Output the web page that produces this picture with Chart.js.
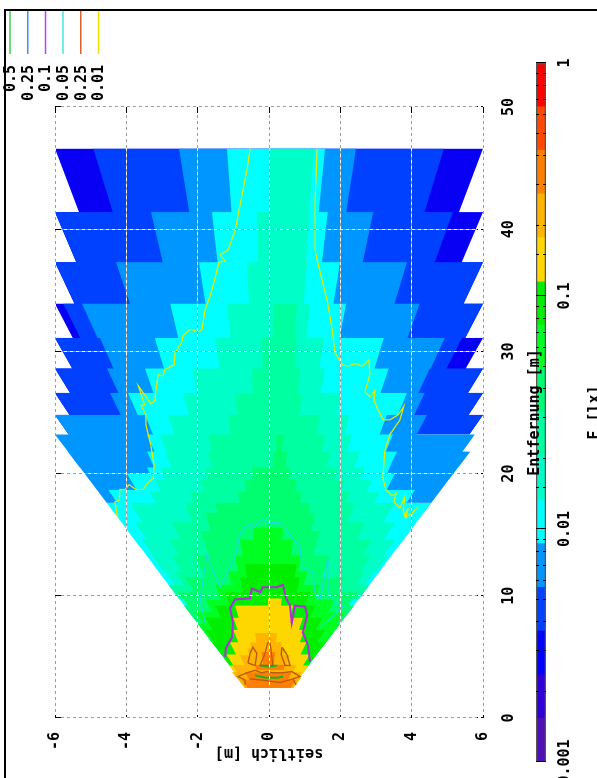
<!DOCTYPE html>
<html>
<head>
<meta charset="utf-8">
<script src="https://cdn.jsdelivr.net/npm/chart.js@4"></script>
<style>
html,body{margin:0;padding:0;background:#fff;width:597px;height:778px;overflow:hidden}
#frame{position:absolute;left:4px;top:9px;width:593px;height:769px;border-left:2px solid #000;border-top:2px solid #000;box-sizing:border-box}
.rot{position:absolute;left:0;top:0;transform-origin:0 0;transform:translate(0,778px) rotate(-90deg)}
</style>
</head>
<body>
<div id="frame"></div>
<canvas id="bar" class="rot" width="778" height="620"></canvas>
<canvas id="plot" class="rot" width="778" height="620"></canvas>
<script>
// far-end distance of each measured row (Entfernung, m)
const rowsFar = [46.6,41.4,37.3,33.9,31.1,28.6,26.6,24.8,23.2];

// filled levels: distance rows, left and right lateral limit at each row's far end
const lv13D = rowsFar;
const lv13L = [-6,-6,-6,-6,-6,-6,-6,-6];
const lv13R = [6,6,6,6,6,6,6,6];

const lv12D = rowsFar;
const lv12L = [-4.93,-6,-6,-5.77,-6,-6,-6,-6];
const lv12R = [4.91,5.16,6,6,5.41,6,6,6];

const lv11D = [46.6,41.4,37.3,33.9,31.1,28.6,26.6,24.8,23.2,21.8,20.5,19.5,18.5,17.6];
const lv11L = [-2.52,-3.31,-4.29,-5.24,-4.74,-4.54,-4.46,-6,-6,-5.64,-5.30,-5.04,-4.78];
const lv11R = [2.44,2.92,3.87,4.23,4.93,4.51,4.37,4.43,5.77,5.64,5.30,5.04,4.78];

const lv10D = [46.6,41.4,37.3,33.9,31.1,28.6,26.6,24.8,23.2,21.8,20.5,20.0,18.66,17.6,16.8,15.3,13.9,12.6,11.5,10.3,9.2,8.2,7.2,6.2,5.2,4.3,3.3,2.45];
const lv10L = [-1.18,-1.60,-1.96,-2.77,-3.20,-3.48,-3.95,-3.48,-3.42,-3.42,-3.42,-3.98,-4.51,-4.55,-4.34,-3.96,-3.59,-3.26,-2.97,-2.66,-2.38,-2.12,-1.86,-1.60,-1.34,-1.11,-0.9];
const lv10R = [1.57,1.65,1.99,2.16,3.22,3.36,3.87,3.31,3.48,3.59,3.39,3.53,4.09,4.55,4.34,3.96,3.59,3.26,2.97,2.66,2.38,2.12,1.86,1.60,1.34,1.11,0.9];

const lv9D = [46.6,41.4,37.3,33.9,31.1,28.6,26.6,24.8,23.2,21.8,20.5,19.5,18.5,17.6,16.0,14.6,13.3,12.0,10.9,9.7];
const lv9L = [0,-0.34,-0.62,-1.18,-1.51,-2.16,-2.41,-2.83,-3.06,-2.92,-3.06,-3.20,-3.34,-3.90,-3.76,-3.56,-3.28,-2.92,-2.82];
const lv9R = [1.26,1.15,1.07,1.15,1.54,1.57,2.05,2.27,2.33,2.55,2.69,2.89,3.11,3.53,3.53,3.53,3.34,2.97,2.82];

const lv8D = [33.9,31.1,28.6,26.6,24.8,23.2,21.8,20.5,19.5,18.5,17.6,16.0,14.6,13.3,12.0,10.9,9.7];
const lv8L = [0.11,-0.20,-0.48,-0.95,-1.15,-1.71,-1.71,-1.79,-1.93,-2.21,-2.35,-2.72,-2.78,-2.72,-2.64,-2.82];
const lv8R = [0.78,0.78,0.87,0.92,1.43,1.57,1.71,1.93,2.13,2.27,2.41,2.69,2.89,2.86,2.69,2.82];

const lv7D = [23.2,21.8,20.5,19.5,18.5,17.6,16.8,15.3,13.3,11.5,10.3,9.2,8.2,7.2,6.2];
const lv7L = [0.22,0.11,-0.48,-0.67,-0.87,-1.51,-1.79,-1.93,-2.07,-2.35,-2.55,-2.38,-2.12,-1.86];
const lv7R = [0.39,0.50,0.59,0.78,0.92,1.15,1.29,1.43,1.71,2.13,2.49,2.38,2.12,1.86];

const lv6D = [15.6,14.6,13.3,12.0,10.9,9.7,8.7,7.7,6.7,5.7];
const lv6L = [-0.45,-0.81,-0.95,-1.15,-1.51,-1.79,-2.07,-1.99,-1.73];
const lv6R = [0.39,0.67,0.92,1.07,1.43,1.85,2.13,1.99,1.73];

const lv5D = [12.6,11.5,10.3,9.2,8.2,7.2,6.2,5.2,4.3,3.3,2.45];
const lv5L = [-0.67,-0.81,-1.23,-1.51,-1.79,-1.79,-1.6,-1.34,-1.11,-0.9];
const lv5R = [0.78,0.87,1.15,1.29,1.49,1.57,1.6,1.34,1.11,0.9];

const lv4D = [9.8,9.2,8.2,7.2,6.2,5.2,4.3,3.3,2.45];
const lv4L = [-0.03,-0.95,-1.0,-1.0,-1.1,-1.2,-1.11,-0.9];
const lv4R = [0.36,0.67,0.95,1.0,1.05,1.15,1.11,0.9];

const lv3D = [6.95,6.2,5.7,5.15,4.35,3.75,3.3,2.45];
const lv3L = [-0.39,-0.53,-0.61,-0.81,-1.04,-1.04,-0.9];
const lv3R = [0.22,0.36,0.45,0.59,0.78,0.92,0.9];

const lv2D = [3.75,3.1,2.45];
const lv2L = [-0.67,-0.76];
const lv2R = [0.64,0.76];

const lv2bD = [5.4,4.35,3.9];
const lv2bL = [-0.2,-0.39];
const lv2bR = [0.17,0.45];

// contour lines as [seitlich, Entfernung]
const yellowLeft = [[-0.53,46.6],[-0.62,44.8],[-0.81,42.0],[-0.95,39.9],[-1.15,38.3],[-1.37,37.9],[-1.23,37.4],[-1.40,37.3],[-1.60,35.0],[-1.79,33.4],[-1.88,31.8],[-1.99,31.6],[-2.21,31.8],[-2.41,31.3],[-2.44,30.8],[-2.63,29.9],[-2.66,28.9],[-2.92,28.5],[-2.97,28.0],[-3.11,28.1],[-3.17,26.8],[-3.20,26.0],[-3.31,25.7],[-3.45,26.3],[-3.67,27.2],[-3.48,25.6],[-3.59,25.6],[-3.45,24.8],[-3.45,24.0],[-3.31,22.3],[-3.22,20.7],[-3.25,19.6],[-3.39,19.3],[-3.53,18.7],[-3.73,18.7],[-3.92,19.1],[-4.04,18.7],[-4.18,18.7],[-4.20,17.8],[-4.32,17.7],[-4.26,16.6],[-4.23,16.4]];
const yellowRight = [[1.35,46.6],[1.32,44.4],[1.29,42.4],[1.29,38.3],[1.35,37.5],[1.49,35.8],[1.63,34.2],[1.77,31.8],[1.85,29.9],[2.05,28.9],[2.21,28.8],[2.44,29.0],[2.61,28.8],[2.80,29.3],[2.83,28.1],[2.69,26.7],[2.83,26.3],[2.97,26.8],[2.94,26.0],[3.06,25.2],[3.20,24.4],[3.39,24.4],[3.62,24.8],[3.78,25.5],[3.67,24.4],[3.39,23.2],[3.25,21.9],[3.20,20.0],[3.20,19.5],[3.28,18.7],[3.45,18.2],[3.56,18.4],[3.50,17.7],[3.67,17.2],[3.81,18.1],[3.76,17.0],[3.81,16.5],[3.90,17.2],[3.84,16.4],[4.09,17.0],[3.98,16.6]];
const cyanLine = [[-1.79,7.8],[-1.93,9.7],[-1.85,11.3],[-1.74,13.4],[-1.57,12.1],[-1.37,10.7],[-1.18,11.9],[-0.95,13.2],[-0.81,15.1],[-0.53,15.9],[-0.45,15.5],[-0.20,16.3],[-0.03,16.0],[0.31,16.0],[0.59,15.0],[0.87,14.0],[0.92,12.4],[1.23,11.9],[1.29,10.2],[1.43,9.7],[1.51,10.9],[1.65,13.1],[1.65,10.5],[1.77,9.7],[2.07,9.1],[1.77,8.3],[1.43,7.4]];
const purpleLine = [[-1.23,5.0],[-1.21,5.7],[-1.04,6.6],[-1.01,7.8],[-1.09,9.0],[-0.95,9.7],[-0.53,9.8],[-0.48,10.6],[-0.25,10.3],[-0.17,10.7],[0.22,10.7],[0.39,10.9],[0.48,9.8],[0.59,9.2],[0.64,7.8],[0.73,9.2],[1.01,9.1],[1.07,8.4],[0.95,7.0],[1.09,6.0],[1.15,4.6]];
const brownLoop1 = [[-0.59,4.5],[-0.53,5.3],[-0.45,5.8],[-0.34,5.3],[-0.39,4.3],[-0.59,4.5]];
const brownLoop2 = [[-0.03,6.2],[-0.11,5.3],[-0.25,4.3],[0.11,4.3],[0.03,6.1],[-0.03,6.2]];
const brownLoop3 = [[0.36,5.8],[0.50,5.2],[0.59,4.3],[0.45,4.3],[0.34,5.2],[0.36,5.8]];
const brownBand = [[-0.67,2.7],[-0.67,3.1],[-0.87,3.4],[-0.62,3.7],[-0.39,3.9],[-0.2,3.7],[-0.06,3.8],[0.11,3.7],[0.36,3.7],[0.64,3.8],[0.87,3.4],[0.67,3.2],[0.76,2.7]];
const brownInner = [[-0.53,3.2],[-0.2,3.1],[0.31,2.9],[0.67,3.2]];
const greenLine = [[-0.39,3.5],[-0.11,3.3],[0.25,3.3],[0.39,3.4]];
const greenLine2 = [[-0.25,4.3],[0.03,4.2],[0.22,4.3]];

// key
const keyLabels = ['0.5','0.25','0.1','0.05','0.25','0.01'];
const keyColors = ['#3ad04a','#3a96f0','#c040f0','#40e8e8','#e06028','#f0e000'];

// colour box
const barEdges = [0.001,0.00154,0.00237,0.00365,0.00562,0.00866,0.0133,0.0205,0.0316,0.0487,0.075,0.115,0.178,0.274,0.422,0.649,1];
const barColors = ['#5010b4','#3000d8','#0000ff','#0040ff','#0096ff','#00ffff','#00ffc8','#00ffa0','#00ff70','#00ff22','#00ee00','#ffd700','#ffb400','#ff8000','#ff4800','#ff0000'];

const axisFont = {family:'"DejaVu Sans Mono"',size:15,weight:'bold'};
const textColor = '#000';

const datasets = [];
function joinParts(parts){
  const out = [];
  parts.forEach((p,i)=>{ if(i) out.push({x:null,y:null}); p.forEach(q=>out.push({x:q[1],y:q[0]})); });
  return out;
}
function addLine(label,color,width,parts){
  datasets.push({label,data:joinParts(parts),borderColor:color,borderWidth:width,pointRadius:0,tension:0,fill:false,spanGaps:false});
}
function edge(d,s){
  const pts = [];
  for(let i=s.length-1;i>=0;i--){
    pts.push({x:d[i+1],y:s[i]*d[i+1]/d[i]});
    pts.push({x:d[i],y:s[i]});
  }
  return pts;
}
function addBand(color,d,l,r){
  datasets.push({data:edge(d,l),fill:'+1',backgroundColor:color,borderWidth:0,borderColor:color,pointRadius:0,tension:0});
  datasets.push({data:edge(d,r),fill:false,borderWidth:0,borderColor:color,pointRadius:0,tension:0});
}
addLine('0.01','#e8e800',1.2,[yellowLeft,yellowRight]);
addLine('0.25','#b85a14',1.4,[brownLoop1,brownLoop2,brownLoop3,brownBand,brownInner]);
addLine('0.05','#20d8e0',1.1,[cyanLine]);
addLine('0.1','#b428e0',2,[purpleLine]);
addLine('0.5','#10b428',2,[greenLine,greenLine2]);
addBand('#ff8000',lv2bD,lv2bL,lv2bR);
addBand('#ff8000',lv2D,lv2L,lv2R);
addBand('#ffb400',lv3D,lv3L,lv3R);
addBand('#ffd700',lv4D,lv4L,lv4R);
addBand('#00ee00',lv5D,lv5L,lv5R);
addBand('#00ff22',lv6D,lv6L,lv6R);
addBand('#00ff70',lv7D,lv7L,lv7R);
addBand('#00ffa0',lv8D,lv8L,lv8R);
addBand('#00ffc8',lv9D,lv9L,lv9R);
addBand('#00ffff',lv10D,lv10L,lv10R);
addBand('#0096ff',lv11D,lv11L,lv11R);
addBand('#0040ff',lv12D,lv12L,lv12R);
addBand('#0800f5',lv13D,lv13L,lv13R);

const keyPlugin = {
  id:'key',
  afterDraw(chart){
    const c = chart.ctx;
    c.save();
    c.font = 'bold 15px "DejaVu Sans Mono"';
    c.textAlign = 'right';
    c.textBaseline = 'middle';
    keyLabels.forEach((t,i)=>{
      const v = 10 + i*17.7;
      c.fillStyle = textColor;
      c.fillText(t,713,v+1);
      c.strokeStyle = keyColors[i];
      c.lineWidth = 1.5;
      c.beginPath();c.moveTo(724,v);c.lineTo(767,v);c.stroke();
    });
    c.restore();
  }
};

function gridOpts(color,tick){
  return {z:1,color,lineWidth:1,tickColor:'#000',tickLength:-6,tickWidth:1,drawTicks:tick};
}
new Chart(document.getElementById('plot'),{
  type:'line',
  data:{datasets},
  plugins:[keyPlugin],
  options:{
    responsive:false,animation:false,parsing:true,
    layout:{padding:{left:16,right:107,top:55,bottom:76}},
    plugins:{legend:{display:false},tooltip:{enabled:false},title:{display:false}},
    scales:{
      x:{type:'linear',position:'bottom',min:0,max:50,
        ticks:{stepSize:10,color:textColor,font:axisFont,padding:23,maxRotation:0},
        grid:gridOpts('#9c9c9c',true),
        border:{display:false,dash:[3,3],dashOffset:0},
        title:{display:true,text:'Entfernung [m]',color:textColor,font:axisFont,padding:0},
        afterFit(s){s.height=61;}},
      y:{type:'linear',position:'left',min:-6,max:6,reverse:true,
        ticks:{stepSize:2,color:textColor,font:axisFont,padding:20},
        grid:gridOpts('#9c9c9c',true),
        border:{display:false,dash:[3,3],dashOffset:0},
        title:{display:true,text:'seitlich [m]',color:textColor,font:axisFont,padding:0},
        afterFit(s){s.width=44;}},
      xt:{type:'linear',axis:'x',position:'top',min:0,max:50,
        ticks:{stepSize:10,display:false},
        grid:gridOpts('#ffffff',true),
        border:{display:false,dash:[3,3],dashOffset:3},
        afterFit(s){s.height=0;}},
      yr:{type:'linear',axis:'y',position:'right',min:-6,max:6,reverse:true,
        ticks:{stepSize:2,display:false},
        grid:gridOpts('#ffffff',true),
        border:{display:false,dash:[3,3],dashOffset:3},
        afterFit(s){s.width=0;}}
    }
  }
});

const barSets = barColors.map((col,i)=>({data:[[barEdges[i],barEdges[i+1]]],backgroundColor:col,borderWidth:0,barPercentage:1,categoryPercentage:1,grouped:false}));
barSets.unshift({data:[[barEdges[0],barEdges[barEdges.length-1]]],backgroundColor:'rgba(0,0,0,0)',borderColor:'#555',borderWidth:1,barPercentage:1,categoryPercentage:1,grouped:false});
const isDecade = v => Math.abs(Math.log10(v)-Math.round(Math.log10(v)))<1e-6;
new Chart(document.getElementById('bar'),{
  type:'bar',
  data:{labels:['E'],datasets:barSets},
  options:{
    indexAxis:'y',responsive:false,animation:false,
    layout:{padding:{left:16,right:63,top:536,bottom:16}},
    plugins:{legend:{display:false},tooltip:{enabled:false}},
    scales:{
      y:{type:'category',display:false},
      x:{type:'logarithmic',min:0.001,max:1,position:'bottom',
        ticks:{autoSkip:false,maxRotation:0,color:textColor,font:axisFont,padding:10,
          callback(v){return isDecade(v)?String(+v.toFixed(3)):'';}},
        grid:{z:1,color:'#000',lineWidth:1,drawTicks:false},
        border:{display:false,dash(ctx){return ctx.tick&&isDecade(ctx.tick.value)?[]:[3,4];}},
        title:{display:true,text:'E [lx]',color:textColor,font:axisFont,padding:0},
        afterFit(s){s.height=58;s.paddingLeft=0;s.paddingRight=0;}}
    }
  }
});
</script>
</body>
</html>
